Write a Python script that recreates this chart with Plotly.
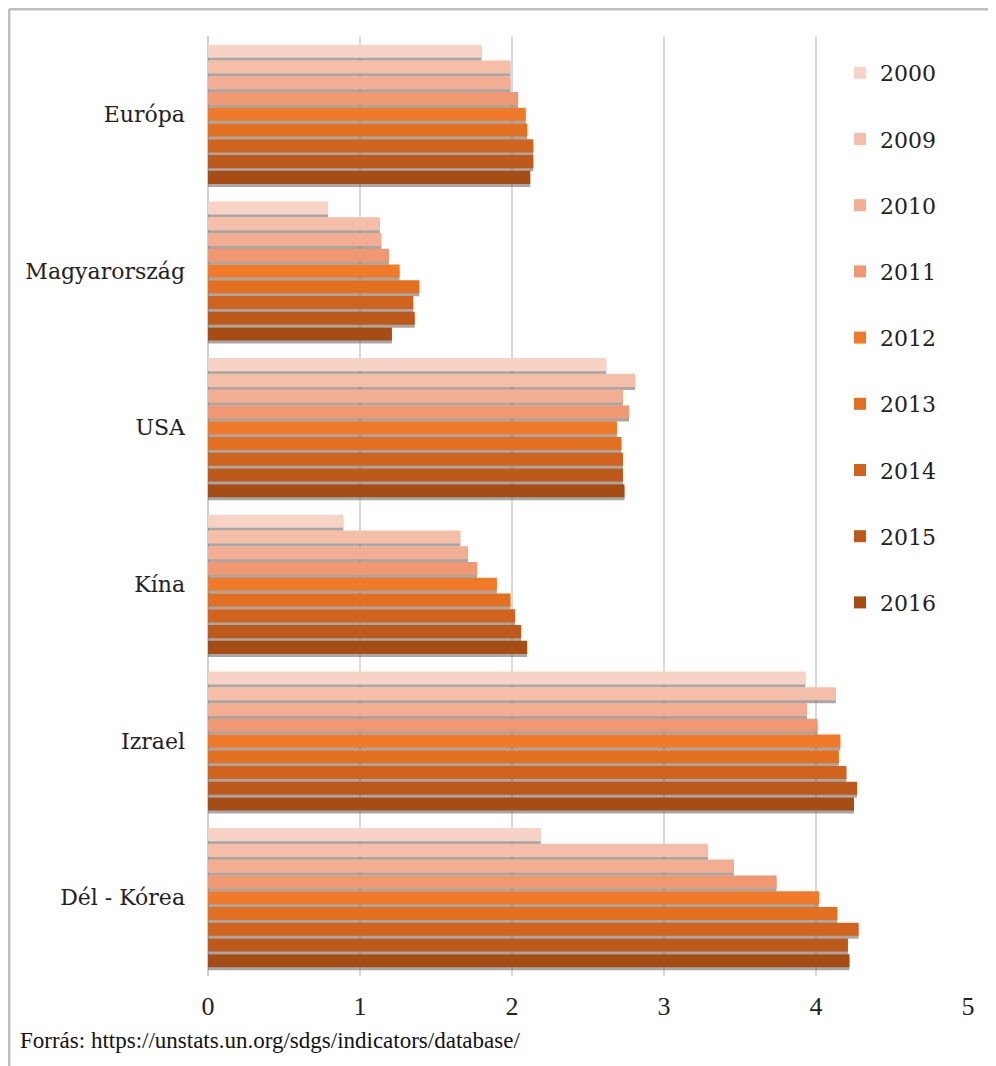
import plotly.graph_objects as go

categories = ["Európa", "Magyarország", "USA", "Kína", "Izrael", "Dél - Kórea"]
years = ["2000", "2009", "2010", "2011", "2012", "2013", "2014", "2015", "2016"]

s2000 = [1.80, 0.79, 2.62, 0.89, 3.93, 2.19]
s2009 = [1.99, 1.13, 2.81, 1.66, 4.13, 3.29]
s2010 = [1.99, 1.14, 2.73, 1.71, 3.94, 3.46]
s2011 = [2.04, 1.19, 2.77, 1.77, 4.01, 3.74]
s2012 = [2.09, 1.26, 2.69, 1.90, 4.16, 4.02]
s2013 = [2.10, 1.39, 2.72, 1.99, 4.15, 4.14]
s2014 = [2.14, 1.35, 2.73, 2.02, 4.20, 4.28]
s2015 = [2.14, 1.36, 2.73, 2.06, 4.27, 4.21]
s2016 = [2.12, 1.21, 2.74, 2.10, 4.25, 4.22]
series = [s2000, s2009, s2010, s2011, s2012, s2013, s2014, s2015, s2016]

colors = ["#f7d3c5", "#f4bea8", "#f2ad92", "#ef9872", "#f07a2a",
          "#e36f21", "#d0641f", "#bc591b", "#a64d16"]

x_ticks = [0, 1, 2, 3, 4, 5]
source = "Forrás: https://unstats.un.org/sdgs/indicators/database/"

# page body has an 8px margin; work in reference pixel coords minus 8
OFF = 8
W, H = 996 - OFF, 1066 - OFF
L, R, T, B = 208 - OFF, 28, 36 - OFF, 90
pw, ph = W - L - R, H - T - B


def px_x(x):
    return (x - OFF - L) / pw


def px_y(y):
    return (H - B - (y - OFF)) / ph


fig = go.Figure()

# shadow bars (main axes, drawn below)
for yr, vals in zip(years, series):
    fig.add_trace(go.Bar(
        y=categories, x=vals, orientation="h", name=yr,
        marker=dict(color="rgba(95,95,95,0.55)", line=dict(width=0)),
        showlegend=False, hoverinfo="skip", xaxis="x", yaxis="y"))

# real bars (overlaid axes)
for yr, vals, c in zip(years, series, colors):
    fig.add_trace(go.Bar(
        y=categories, x=vals, orientation="h", name=yr,
        marker=dict(color=c, line=dict(width=0)),
        legendgroup=yr, xaxis="x2", yaxis="y2"))

n = len(categories)
shift = 3.0 / (ph / n)  # ~3 px shadow offset in category units

fig.update_layout(
    width=W, height=H,
    margin=dict(l=L, r=R, t=T, b=B),
    paper_bgcolor="white", plot_bgcolor="white",
    barmode="group", bargap=0.095, bargroupgap=0.17,
    font=dict(family="DejaVu Serif", color="#222222"),
    xaxis=dict(range=[0, 5], tickvals=x_ticks, showgrid=True,
               gridcolor="#d9d9d9", gridwidth=2, zeroline=True,
               zerolinecolor="#d0d0d0", zerolinewidth=2,
               showline=False, ticks="", ticklabelstandoff=12,
               tickfont=dict(family="Liberation Serif", size=26, color="#222222"),
               domain=[0, 1]),
    yaxis=dict(range=[n - 0.5 - shift, -0.5 - shift], showgrid=False,
               zeroline=False, showline=False, ticks="",
               showticklabels=False),
    xaxis2=dict(range=[0, 5], overlaying="x", visible=False, showgrid=False),
    yaxis2=dict(range=[n - 0.5, -0.5], overlaying="y", showgrid=False,
                zeroline=False, showline=False, ticks="", side="left",
                ticklabelstandoff=22,
                tickfont=dict(family="DejaVu Serif", size=22, color="#222222")),
    legend=dict(x=px_x(840), y=px_y(73) + (21 / ph), xanchor="left", yanchor="top",
                traceorder="grouped", tracegroupgap=34.6,
                font=dict(family="DejaVu Serif", size=22, color="#222222"),
                bgcolor="rgba(0,0,0,0)"),
    annotations=[dict(text=source, xref="paper", yref="paper",
                      x=px_x(18), y=px_y(1040),
                      xanchor="left", yanchor="middle", showarrow=False,
                      font=dict(family="Liberation Serif", size=23, color="#111111"))],
    shapes=[
        dict(type="line", xref="paper", yref="paper",
             x0=px_x(OFF + 1), x1=px_x(1010),
             y0=px_y(OFF + 1), y1=px_y(OFF + 1),
             line=dict(color="#c0c0c0", width=3)),
        dict(type="line", xref="paper", yref="paper",
             x0=px_x(OFF + 1), x1=px_x(OFF + 1),
             y0=px_y(OFF + 1), y1=px_y(1080),
             line=dict(color="#c0c0c0", width=3)),
    ],
)

fig.write_html("out.html")
